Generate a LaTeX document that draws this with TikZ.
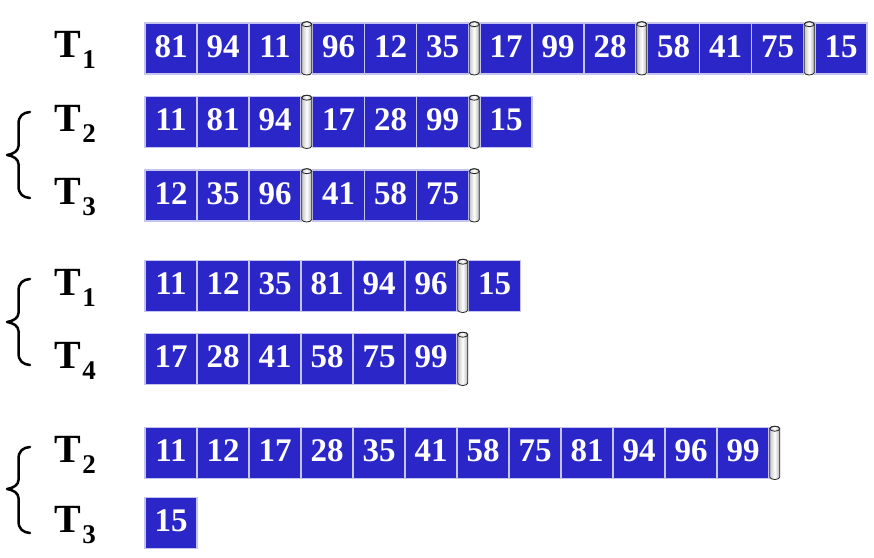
\documentclass[tikz,border=0pt]{standalone}
\usepackage{fontspec}
\setmainfont{Liberation Serif}
\usetikzlibrary{positioning}
\definecolor{cellblue}{RGB}{42,38,200}
\definecolor{cellline}{RGB}{196,196,238}
\newcommand\Tlab[1]{T\kern1.5pt{\fontsize{27}{27}\selectfont\raisebox{-11pt}{#1}}}
\newcommand\curlybr[3]{%
  \draw[bracel] (30,{-(#1)}) .. controls (23,{-(#1)-0.5}) and (18.5,{-(#1)-4}) .. (18.5,{-(#1)-12})
    -- (18.5,{-(#2)+9}) .. controls (18.5,{-(#2)+4}) and (13,{-(#2)+0.8}) .. (7,{-(#2)})
    .. controls (13,{-(#2)-0.8}) and (18.5,{-(#2)-4}) .. (18.5,{-(#2)-9})
    -- (18.5,{-(#3)+12}) .. controls (18.5,{-(#3)+4}) and (23,{-(#3)+0.5}) .. (30,{-(#3)});}
\begin{document}
\begin{tikzpicture}[x=1pt,y=1pt,
  cellbox/.style={rectangle, fill=cellblue, draw=cellline, line width=1.1pt,
    minimum width=52pt, minimum height=51pt, inner sep=0pt, outer sep=0pt,
    text=white, font=\fontsize{33}{33}\selectfont\bfseries, text depth=4pt},
  first/.style={cellbox, anchor=north west},
  nx/.style={cellbox, right=0pt of #1},
  gp/.style={cellbox, right=11.5pt of #1},
  lab/.style={anchor=base west, inner sep=0pt, font=\fontsize{40}{40}\selectfont\bfseries},
  bracel/.style={line width=2.5pt, line cap=round, line join=round},
  cyl/.pic={
    \shadedraw[left color=black!22, right color=black!30, middle color=white,
      draw=black!85, line width=0.8pt]
      (-5,-1.2) -- (-5,-49.5) arc[start angle=180,end angle=360,x radius=5,y radius=2.5]
      -- (5,-1.2) arc[start angle=0,end angle=180,x radius=5,y radius=2.5] -- cycle;
    \draw[black!85, line width=0.8pt] (0,-1.2) ellipse[x radius=5,y radius=2.5];
  }]
\useasboundingbox (0,0) rectangle (874,-557);

% labels
\node[lab] (L1) at (54,-57.5) {\Tlab{1}};
\node[lab] (L2) at (54,-131) {\Tlab{2}};
\node[lab] (L3) at (54,-204.5) {\Tlab{3}};
\node[lab] (L4) at (54,-295) {\Tlab{1}};
\node[lab] (L5) at (54,-368) {\Tlab{4}};
\node[lab] (L6) at (54,-462) {\Tlab{2}};
\node[lab] (L7) at (54,-532) {\Tlab{3}};

% braces
\curlybr{112}{155}{198}
\curlybr{279}{322}{365}
\curlybr{447}{489}{533}

% row 1
\node[first] (a1) at (145,-23) {81};
\node[nx=a1] (a2) {94};
\node[nx=a2] (a3) {11};
\node[gp=a3] (a4) {96};
\node[nx=a4] (a5) {12};
\node[nx=a5] (a6) {35};
\node[gp=a6] (a7) {17};
\node[nx=a7] (a8) {99};
\node[nx=a8] (a9) {28};
\node[gp=a9] (a10) {58};
\node[nx=a10] (a11) {41};
\node[nx=a11] (a12) {75};
\node[gp=a12] (a13) {15};
\pic at ([xshift=5.75pt]a3.north east) {cyl};
\pic at ([xshift=5.75pt]a6.north east) {cyl};
\pic at ([xshift=5.75pt]a9.north east) {cyl};
\pic at ([xshift=5.75pt]a12.north east) {cyl};

% row 2
\node[first] (b1) at (145,-96.5) {11};
\node[nx=b1] (b2) {81};
\node[nx=b2] (b3) {94};
\node[gp=b3] (b4) {17};
\node[nx=b4] (b5) {28};
\node[nx=b5] (b6) {99};
\node[gp=b6] (b7) {15};
\pic at ([xshift=5.75pt]b3.north east) {cyl};
\pic at ([xshift=5.75pt]b6.north east) {cyl};

% row 3
\node[first] (c1) at (145,-170) {12};
\node[nx=c1] (c2) {35};
\node[nx=c2] (c3) {96};
\node[gp=c3] (c4) {41};
\node[nx=c4] (c5) {58};
\node[nx=c5] (c6) {75};
\pic at ([xshift=5.75pt]c3.north east) {cyl};
\pic at ([xshift=5.75pt]c6.north east) {cyl};

% row 4
\node[first] (d1) at (145,-260.5) {11};
\node[nx=d1] (d2) {12};
\node[nx=d2] (d3) {35};
\node[nx=d3] (d4) {81};
\node[nx=d4] (d5) {94};
\node[nx=d5] (d6) {96};
\node[gp=d6] (d7) {15};
\pic at ([xshift=5.75pt]d6.north east) {cyl};

% row 5
\node[first] (e1) at (145,-333.5) {17};
\node[nx=e1] (e2) {28};
\node[nx=e2] (e3) {41};
\node[nx=e3] (e4) {58};
\node[nx=e4] (e5) {75};
\node[nx=e5] (e6) {99};
\pic at ([xshift=5.75pt]e6.north east) {cyl};

% row 6
\node[first] (f1) at (145,-427.5) {11};
\node[nx=f1] (f2) {12};
\node[nx=f2] (f3) {17};
\node[nx=f3] (f4) {28};
\node[nx=f4] (f5) {35};
\node[nx=f5] (f6) {41};
\node[nx=f6] (f7) {58};
\node[nx=f7] (f8) {75};
\node[nx=f8] (f9) {81};
\node[nx=f9] (f10) {94};
\node[nx=f10] (f11) {96};
\node[nx=f11] (f12) {99};
\pic at ([xshift=5.75pt]f12.north east) {cyl};

% row 7
\node[first] (g1) at (145,-497.5) {15};
\end{tikzpicture}
\end{document}
